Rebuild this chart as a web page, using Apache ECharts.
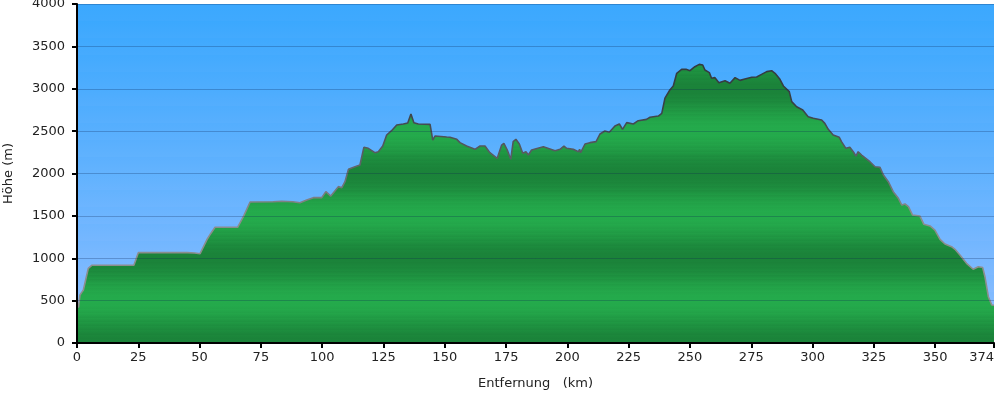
<!DOCTYPE html>
<html>
<head>
<meta charset="utf-8">
<script src="https://cdn.jsdelivr.net/npm/echarts@6/dist/echarts.min.js"></script>
<style>
html,body{margin:0;padding:0;background:#fff;}
#chart{width:1000px;height:394px;}
</style>
</head>
<body>
<div id="chart"></div>
<script>
// Distance along route (km)
const distanceKm = [
  0, 0.6, 1.2, 2.0, 2.6, 3.5, 4.6, 6.0, 15, 23.2,
  25.0, 35, 45, 48, 50.2, 52.9, 54.5, 56.3, 60, 65.5,
  68, 70.6, 80, 83.5, 88, 90.9, 93.7, 96.4, 99.8, 101.5,
  103.5, 106.6, 108, 109.3, 110.7, 113.4, 115.4, 117.0, 118.8, 121.5,
  122.9, 124.7, 126.3, 128.3, 130.4, 133.1, 134.9, 136.2, 137.4, 139.2,
  144.0, 145.1, 146.0, 150.8, 152.1, 154.9, 156.2, 158.9, 162.3, 164.4,
  166.4, 168.4, 171.4, 173.2, 174.1, 175.5, 176.9, 177.9, 179.0, 180.4,
  181.8, 183.1, 184.1, 185.4, 190.2, 195.0, 197.0, 198.6, 199.7, 202.4,
  204.5, 205.0, 205.4, 207.2, 209.2, 211.7, 213.3, 215.3, 217.1, 219.4,
  221.2, 222.5, 224.2, 226.9, 228.9, 232.3, 233.7, 237.1, 238.5, 239.8,
  241.8, 243.2, 244.6, 246.6, 248.4, 250.0, 252.0, 253.8, 255.2, 256.1,
  257.9, 258.8, 260.2, 261.8, 264.3, 266.3, 268.4, 270.4, 272.4, 273.1,
  275.2, 277.2, 279.2, 281.3, 283.3, 284.7, 286.7, 288.1, 290.5, 291.5,
  293.5, 296.0, 298.2, 300.3, 303.7, 305.0, 306.4, 308.4, 310.9, 311.8,
  313.6, 315.2, 316.6, 317.7, 318.6, 320.0, 323.4, 325.5, 327.5, 328.9,
  330.9, 332.9, 335.0, 336.4, 337.7, 339.1, 340.8, 343.8, 345.4, 347.9,
  349.9, 352.0, 354.0, 356.7, 358.1, 360.1, 362.8, 365.5, 367.6, 369.4,
  370.3, 371.7, 373.1, 374
];
// Elevation (m)
const elevationM = [
  450, 420, 566, 600, 625, 740, 881, 917, 917, 917,
  1066, 1068, 1066, 1062, 1054, 1215, 1290, 1365, 1365, 1365,
  1500, 1664, 1667, 1672, 1667, 1655, 1687, 1715, 1715, 1785,
  1734, 1845, 1833, 1903, 2049, 2081, 2100, 2309, 2297, 2246,
  2257, 2324, 2454, 2505, 2572, 2584, 2596, 2702, 2600, 2584,
  2580, 2395, 2442, 2430, 2427, 2403, 2364, 2324, 2285, 2324,
  2324, 2246, 2179, 2336, 2356, 2277, 2167, 2376, 2403, 2348,
  2238, 2257, 2218, 2277, 2316, 2269, 2285, 2324, 2297, 2285,
  2257, 2285, 2246, 2348, 2364, 2376, 2466, 2501, 2486, 2560,
  2584, 2521, 2600, 2584, 2623, 2639, 2663, 2678, 2710, 2890,
  2985, 3033, 3182, 3229, 3229, 3213, 3260, 3288, 3280, 3221,
  3190, 3123, 3131, 3072, 3095, 3064, 3131, 3099, 3115, 3095,
  3135, 3139, 3170, 3202, 3213, 3182, 3111, 3033, 2966, 2848,
  2788, 2749, 2670, 2651, 2631, 2592, 2521, 2454, 2427, 2376,
  2297, 2309, 2257, 2206, 2257, 2218, 2139, 2080, 2073, 1982,
  1903, 1785, 1707, 1628, 1640, 1609, 1510, 1498, 1400, 1381,
  1333, 1223, 1168, 1136, 1105, 1038, 940, 870, 900, 890,
  782, 546, 448, 445
];
const yTicks = { min: 0, max: 4000, step: 500 };
const xTicks = { min: 0, max: 374, step: 25 };
const xName = 'Entfernung   (km)';
const yName = 'Höhe (m)';

// ---- styling helpers ----
const GRID = { left: 77, right: 6, top: 4, bottom: 51 };
const H = 394;
const yTop = GRID.top, yBot = H - GRID.bottom;

function hex(c){ return [parseInt(c.slice(1,3),16),parseInt(c.slice(3,5),16),parseInt(c.slice(5,7),16)]; }
function mix(a,b,t){ const A=hex(a),B=hex(b); return 'rgb('+A.map((v,i)=>Math.round(v+(B[i]-v)*t)).join(',')+')'; }

// green stepped bands: dark at every 1000 m, light at 500 m offsets
const greenStops = [];
const bandH = 50;
for (let h = 0; h < 4000; h += bandH) {
  const mid = h + bandH / 2;
  const t = (1 - Math.cos(2 * Math.PI * mid / 1000)) / 2;
  const col = mix('#1b8239', '#24ab4c', t);
  greenStops.push({ offset: (4000 - (h + bandH)) / 4000, color: col });
  greenStops.push({ offset: (4000 - h) / 4000, color: col });
}
greenStops.sort((a,b)=>a.offset-b.offset);

// sky stepped bands
const skyStops = [];
const skyBand = 200;
for (let h = 0; h < 4000; h += skyBand) {
  const t = (h + skyBand/2) / 4000;
  const col = mix('#92bfff', '#39a7fe', Math.pow(t, 0.9));
  skyStops.push({ offset: (4000 - (h + skyBand)) / 4000, color: col });
  skyStops.push({ offset: (4000 - h) / 4000, color: col });
}
skyStops.sort((a,b)=>a.offset-b.offset);

const chart = echarts.init(document.getElementById('chart'), null, { renderer: 'canvas' });
const labelFont = { fontFamily: 'DejaVu Sans', fontSize: 13, color: '#222' };
const plain = v => String(v);

chart.setOption({
  animation: false,
  backgroundColor: '#ffffff',
  grid: {
    left: GRID.left, right: GRID.right, top: GRID.top, bottom: GRID.bottom,
    containLabel: false, outerBoundsMode: 'none',
    show: true, borderWidth: 0,
    backgroundColor: new echarts.graphic.LinearGradient(0, 0, 0, 1, skyStops)
  },
  xAxis: {
    type: 'value', min: xTicks.min, max: xTicks.max, interval: xTicks.step,
    name: xName, nameLocation: 'middle', nameGap: 34,
    nameTextStyle: Object.assign({}, labelFont),
    axisLine: { show: true, onZero: false, lineStyle: { color: '#000', width: 2 } },
    axisTick: { show: true, length: 5, lineStyle: { color: '#000', width: 2 } },
    axisLabel: Object.assign({ margin: 8, showMaxLabel: true, showMinLabel: true,
      alignMaxLabel: 'right', formatter: plain }, labelFont),
    splitLine: { show: false },
    z: 5
  },
  yAxis: {
    type: 'value', min: yTicks.min, max: yTicks.max, interval: yTicks.step,
    name: yName, nameLocation: 'middle', nameGap: 62, nameRotate: 90,
    nameTextStyle: Object.assign({}, labelFont),
    axisLine: { show: true, lineStyle: { color: '#000', width: 2 } },
    axisTick: { show: true, length: 5, lineStyle: { color: '#000', width: 2 } },
    axisLabel: Object.assign({ margin: 12, formatter: plain }, labelFont),
    splitLine: { show: true, lineStyle: { color: 'rgba(10,35,80,0.26)', width: 1 } },
    z: 5
  },
  series: [{
    type: 'line',
    data: distanceKm.map((d, i) => [d, elevationM[i]]),
    showSymbol: false,
    smooth: false,
    z: 2,
    lineStyle: {
      width: 1.6,
      color: new echarts.graphic.LinearGradient(0, yTop, 0, yBot, [
        { offset: 0, color: '#2a3236' },
        { offset: 0.3, color: '#394046' },
        { offset: 0.48, color: '#60646a' },
        { offset: 0.62, color: '#8a8c8c' },
        { offset: 1, color: '#8f8f8f' }
      ], true)
    },
    areaStyle: {
      opacity: 1,
      color: new echarts.graphic.LinearGradient(0, yTop, 0, yBot, greenStops, true)
    }
  }]
});
</script>
</body>
</html>
